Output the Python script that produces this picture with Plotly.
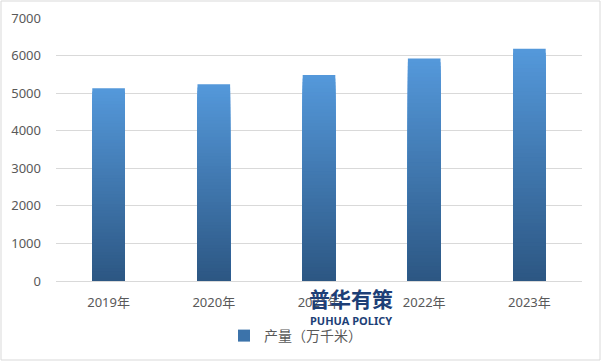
import plotly.graph_objects as go

categories = ["2019年", "2020年", "2021年", "2022年", "2023年"]
values = [5130, 5240, 5480, 5920, 6180]
series_name = "产量（万千米）"
y_ticks = [0, 1000, 2000, 3000, 4000, 5000, 6000, 7000]

W, H = 601, 361
L, R, T, B = 56, 19, 18, 80

top_rgb = (84, 152, 218)
bot_rgb = (44, 86, 130)
N = 60

fig = go.Figure()
for k in range(N, 0, -1):
    f = k / N
    c = tuple(round(bot_rgb[i] + (top_rgb[i] - bot_rgb[i]) * f) for i in range(3))
    fig.add_trace(go.Bar(
        x=categories,
        y=[v * f for v in values],
        marker=dict(color="rgb(%d,%d,%d)" % c, line=dict(width=0)),
        showlegend=False,
        hoverinfo="skip",
    ))
# legend entry
fig.add_trace(go.Bar(
    x=categories, y=[0] * len(categories), name=series_name,
    marker=dict(color="rgb(60,115,170)", line=dict(width=0)),
    showlegend=True,
))

font_family = "Noto Sans, Noto Sans CJK SC, sans-serif"
PW, PH = W - L - R, H - T - B
fig.update_layout(
    width=W, height=H,
    margin=dict(l=L, r=R, t=T, b=B, autoexpand=False),
    barmode="overlay",
    bargap=0.69,
    plot_bgcolor="white",
    paper_bgcolor="white",
    font=dict(family=font_family, size=12, color="#595959"),
    xaxis=dict(
        type="category", showgrid=False, showline=True, automargin=False,
        linecolor="#d9d9d9", linewidth=1, ticks="", ticklabelstandoff=9,
        tickfont=dict(size=13, color="#595959"),
    ),
    yaxis=dict(
        range=[0, 7000], tickvals=y_ticks, showgrid=True, automargin=False,
        gridcolor="#d9d9d9", gridwidth=1, zeroline=False,
        showline=False, ticks="", ticklabelstandoff=14,
        tickfont=dict(size=13, color="#595959"),
    ),
    legend=dict(
        orientation="h", xref="container", x=0.5 - 5 / W, xanchor="center",
        yref="container", y=(H - 336) / H, yanchor="middle",
        font=dict(size=14, color="#595959"),
        itemwidth=30,
    ),
    shapes=[dict(
        type="rect", xref="paper", yref="paper",
        x0=-(L - 1) / PW, x1=1 + (R - 1) / PW,
        y0=-(B - 1) / PH, y1=1 + (T - 1) / PH,
        line=dict(color="#d9d9d9", width=1), fillcolor="rgba(0,0,0,0)",
    )],
    annotations=[
        dict(text="<b>普华有策</b>", xref="paper", yref="paper",
             x=(351 - L) / PW, y=-(298 - (H - B)) / PH,
             showarrow=False, font=dict(size=21, color="#1d3f77", family="Noto Sans CJK SC"),
             xanchor="center", yanchor="middle"),
        dict(text="<b>PUHUA POLICY</b>", xref="paper", yref="paper",
             x=(351 - L) / PW, y=-(320 - (H - B)) / PH,
             showarrow=False, font=dict(size=11, color="#1d3f77", family="Noto Sans"),
             xanchor="center", yanchor="middle"),
    ],
)

fig.write_html("out.html", config={"displayModeBar": False},
               post_script="document.body.style.margin='0';")
